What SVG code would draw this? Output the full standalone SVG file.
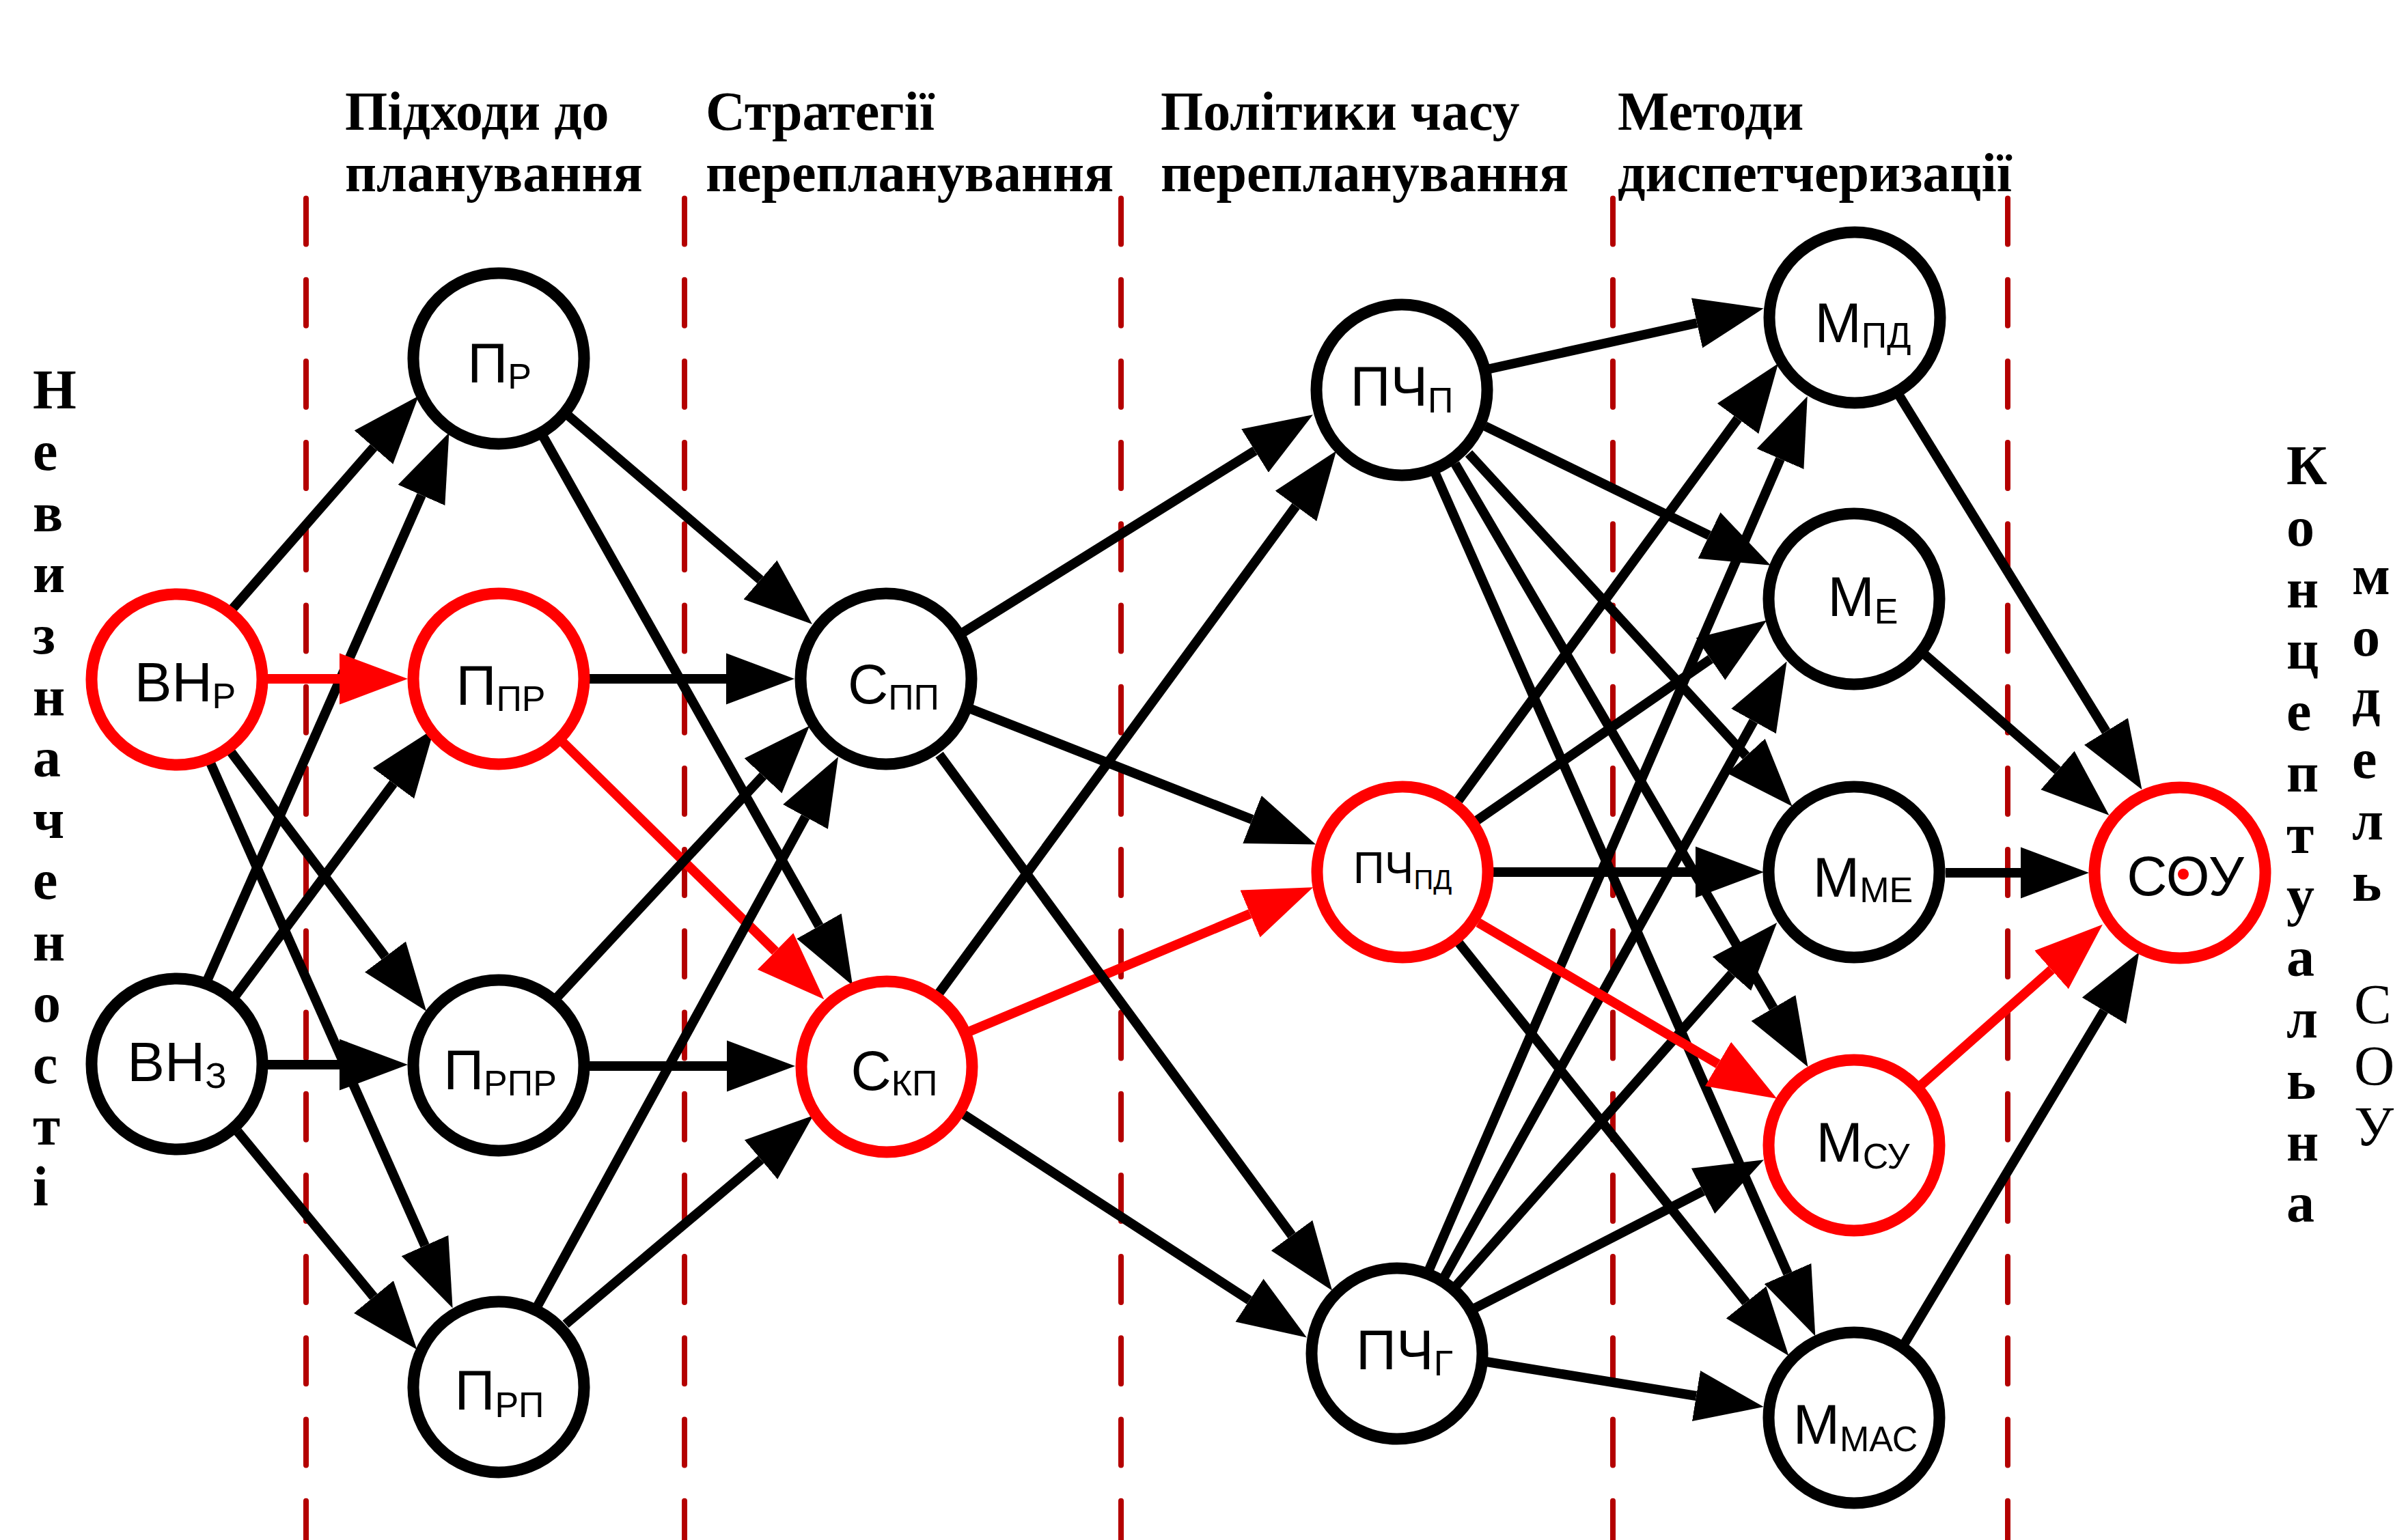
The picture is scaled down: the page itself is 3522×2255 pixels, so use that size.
<svg xmlns="http://www.w3.org/2000/svg" width="3522" height="2255" viewBox="0 0 3522 2255">
<defs>
<style>
.bg{fill:#fff}
.dash{stroke:#b40000;stroke-width:8;stroke-dasharray:67 52.2;stroke-linecap:round;fill:none}
.hdr{font-family:"Liberation Serif","Times New Roman",serif;font-weight:bold;font-size:80px;fill:#000}
.vt{font-family:"Liberation Serif","Times New Roman",serif;font-weight:bold;font-size:82px;fill:#000}
.vn{font-weight:normal}
.e line{stroke:#000;stroke-width:14;marker-end:url(#ab)}
.e line.r{stroke:#f00;marker-end:url(#ar)}
.n circle{fill:#fff;stroke:#000;stroke-width:17}
.n.r circle{stroke:#f00}
.lbl{font-family:"Liberation Sans",Arial,sans-serif;font-size:82px;text-anchor:middle;fill:#000}
.sub{font-size:52px}
.s2{font-size:64px}
.sub2{font-size:40px}
</style>
<marker id="ab" markerUnits="userSpaceOnUse" viewBox="0 -38 100 76" refX="0" refY="0" markerWidth="100" markerHeight="76" orient="auto"><path d="M0,-37.5L100,0L0,37.5z" fill="#000"/></marker>
<marker id="ar" markerUnits="userSpaceOnUse" viewBox="0 -38 100 76" refX="0" refY="0" markerWidth="100" markerHeight="76" orient="auto"><path d="M0,-37.5L100,0L0,37.5z" fill="#f00"/></marker>
</defs>
<rect class="bg" x="0" y="0" width="3522" height="2255"/>
<g id="separators">
<line class="dash" x1="448" y1="290.5" x2="448" y2="2260"/>
<line class="dash" x1="1002" y1="290.5" x2="1002" y2="2260"/>
<line class="dash" x1="1641" y1="290.5" x2="1641" y2="2260"/>
<line class="dash" x1="2361" y1="290.5" x2="2361" y2="2260"/>
<line class="dash" x1="2939" y1="290.5" x2="2939" y2="2260"/>
</g>
<g id="headers">
<text class="hdr" x="505" y="190">Підходи до</text>
<text class="hdr" x="505" y="280">планування</text>
<text class="hdr" x="1033" y="190">Стратегії</text>
<text class="hdr" x="1033" y="280">перепланування</text>
<text class="hdr" x="1699" y="190">Політики часу</text>
<text class="hdr" x="1699" y="280">перепланування</text>
<text class="hdr" x="2368" y="190">Методи</text>
<text class="hdr" x="2368" y="280">диспетчеризації</text>
</g>
<g id="side-left">
<text class="vt" x="48" y="598"><tspan x="48">Н</tspan><tspan x="48" dy="89.8">е</tspan><tspan x="48" dy="89.8">в</tspan><tspan x="48" dy="89.8">и</tspan><tspan x="48" dy="89.8">з</tspan><tspan x="48" dy="89.8">н</tspan><tspan x="48" dy="89.8">а</tspan><tspan x="48" dy="89.8">ч</tspan><tspan x="48" dy="89.8">е</tspan><tspan x="48" dy="89.8">н</tspan><tspan x="48" dy="89.8">о</tspan><tspan x="48" dy="89.8">с</tspan><tspan x="48" dy="89.8">т</tspan><tspan x="48" dy="89.8">і</tspan></text>
</g>
<g id="side-right">
<text class="vt" x="3347" y="709"><tspan x="3347">К</tspan><tspan x="3347" dy="90">о</tspan><tspan x="3347" dy="90">н</tspan><tspan x="3347" dy="90">ц</tspan><tspan x="3347" dy="90">е</tspan><tspan x="3347" dy="90">п</tspan><tspan x="3347" dy="90">т</tspan><tspan x="3347" dy="90">у</tspan><tspan x="3347" dy="90">а</tspan><tspan x="3347" dy="90">л</tspan><tspan x="3347" dy="90">ь</tspan><tspan x="3347" dy="90">н</tspan><tspan x="3347" dy="90">а</tspan></text>
<text class="vt" x="3443" y="870"><tspan x="3443">м</tspan><tspan x="3443" dy="89.7">о</tspan><tspan x="3443" dy="89.7">д</tspan><tspan x="3443" dy="89.7">е</tspan><tspan x="3443" dy="89.7">л</tspan><tspan x="3443" dy="89.7">ь</tspan><tspan x="3446" dy="179.4" class="vn">С</tspan><tspan x="3446" dy="89.7" class="vn">О</tspan><tspan x="3446" dy="89.7" class="vn">У</tspan></text>
</g>
<g id="connectors" class="e">
<line x1="339" y1="893" x2="547" y2="655"/>
<line x1="304" y1="1434" x2="617" y2="725"/>
<line class="r" x1="390" y1="994" x2="497" y2="994"/>
<line x1="344" y1="1459" x2="576" y2="1147"/>
<line x1="335" y1="1097" x2="564" y2="1401"/>
<line x1="308" y1="1117" x2="622" y2="1824"/>
<line x1="390" y1="1559" x2="497" y2="1559"/>
<line x1="348" y1="1657" x2="547" y2="1899"/>
<line x1="830" y1="607" x2="1113" y2="849"/>
<line x1="795" y1="639" x2="1199" y2="1356"/>
<line x1="863" y1="994" x2="1063" y2="994"/>
<line class="r" x1="820" y1="1083" x2="1135" y2="1393"/>
<line x1="815" y1="1461" x2="1117" y2="1136"/>
<line x1="863" y1="1561" x2="1064" y2="1561"/>
<line x1="787" y1="1912" x2="1179" y2="1196"/>
<line x1="828" y1="1939" x2="1114" y2="1698"/>
<line x1="1410" y1="926" x2="1837" y2="660"/>
<line x1="1374" y1="1455" x2="1897" y2="741"/>
<line x1="1421" y1="1038" x2="1833" y2="1200"/>
<line class="r" x1="1420" y1="1510" x2="1830" y2="1338"/>
<line x1="1375" y1="1105" x2="1891" y2="1809"/>
<line x1="1411" y1="1632" x2="1829" y2="1904"/>
<line x1="2181" y1="540" x2="2484" y2="473"/>
<line x1="2174" y1="624" x2="2502" y2="784"/>
<line x1="2150" y1="664" x2="2556" y2="1107"/>
<line x1="2130" y1="679" x2="2596" y2="1476"/>
<line x1="2101" y1="693" x2="2617" y2="1865"/>
<line x1="2135" y1="1172" x2="2544" y2="613"/>
<line x1="2092" y1="1859" x2="2606" y2="672"/>
<line x1="2112" y1="1874" x2="2567" y2="1056"/>
<line x1="2127" y1="1888" x2="2535" y2="1426"/>
<line x1="2158" y1="1916" x2="2493" y2="1744"/>
<line x1="2161" y1="1202" x2="2504" y2="965"/>
<line x1="2186" y1="1277" x2="2482" y2="1277"/>
<line class="r" x1="2164" y1="1351" x2="2515" y2="1558"/>
<line x1="2135" y1="1380" x2="2556" y2="1907"/>
<line x1="2176" y1="1994" x2="2483" y2="2044"/>
<line x1="2780" y1="579" x2="3083" y2="1071"/>
<line x1="2817" y1="958" x2="3012" y2="1128"/>
<line x1="2848" y1="1278" x2="2958" y2="1278"/>
<line class="r" x1="2811" y1="1590" x2="3003" y2="1420"/>
<line x1="2788" y1="1967" x2="3080" y2="1480"/>
</g>
<g id="n-VNr" class="n r"><circle cx="259" cy="995" r="125"/><text class="lbl" x="271" y="1027">ВН<tspan class="sub" dy="10">Р</tspan></text></g>
<g id="n-VNz" class="n"><circle cx="259" cy="1558" r="125"/><text class="lbl" x="259" y="1583">ВН<tspan class="sub" dy="10">З</tspan></text></g>
<g id="n-Pr" class="n"><circle cx="730" cy="525" r="125"/><text class="lbl" x="731" y="560">П<tspan class="sub" dy="9">Р</tspan></text></g>
<g id="n-Ppr" class="n r"><circle cx="730" cy="994" r="125"/><text class="lbl" x="733" y="1032">П<tspan class="sub" dy="9">ПР</tspan></text></g>
<g id="n-Prpr" class="n"><circle cx="730" cy="1560" r="125"/><text class="lbl" x="732" y="1595">П<tspan class="sub" dy="9">РПР</tspan></text></g>
<g id="n-Prp" class="n"><circle cx="730" cy="2031" r="125"/><text class="lbl" x="731" y="2064">П<tspan class="sub" dy="11">РП</tspan></text></g>
<g id="n-Spp" class="n"><circle cx="1297" cy="994" r="125"/><text class="lbl" x="1308" y="1030">С<tspan class="sub" dy="9">ПП</tspan></text></g>
<g id="n-Skp" class="n r"><circle cx="1298" cy="1562" r="125"/><text class="lbl" x="1309" y="1596">С<tspan class="sub" dy="8">КП</tspan></text></g>
<g id="n-PChp" class="n"><circle cx="2052" cy="571" r="125"/><text class="lbl" x="2052" y="594">ПЧ<tspan class="sub" dy="10">П</tspan></text></g>
<g id="n-PChpd" class="n r"><circle cx="2053" cy="1277" r="125"/><text class="lbl s2" x="2053" y="1293">ПЧ<tspan class="sub2" dy="9">ПД</tspan></text></g>
<g id="n-PChg" class="n"><circle cx="2045" cy="1982" r="125"/><text class="lbl" x="2056" y="2005">ПЧ<tspan class="sub" dy="9">Г</tspan></text></g>
<g id="n-Mpd" class="n"><circle cx="2715" cy="465" r="125"/><text class="lbl" x="2727" y="501">М<tspan class="sub" dy="8">ПД</tspan></text></g>
<g id="n-Me" class="n"><circle cx="2714" cy="877" r="125"/><text class="lbl" x="2727" y="902">М<tspan class="sub" dy="11">Е</tspan></text></g>
<g id="n-Mme" class="n"><circle cx="2714" cy="1277" r="125"/><text class="lbl" x="2727" y="1313">М<tspan class="sub" dy="8">МЕ</tspan></text></g>
<g id="n-Msu" class="n r"><circle cx="2714" cy="1677" r="125"/><text class="lbl" x="2727" y="1701">М<tspan class="sub" dy="10">СУ</tspan></text></g>
<g id="n-Mmas" class="n"><circle cx="2714" cy="2076" r="125"/><text class="lbl" x="2716" y="2114">М<tspan class="sub" dy="11">МАС</tspan></text></g>
<g id="n-SOU" class="n r"><circle cx="3191" cy="1278" r="125"/><text class="lbl" x="3199" y="1311">СОУ</text><circle cx="3196" cy="1280" r="8" style="fill:#f00;stroke:none"/></g>
</svg>
